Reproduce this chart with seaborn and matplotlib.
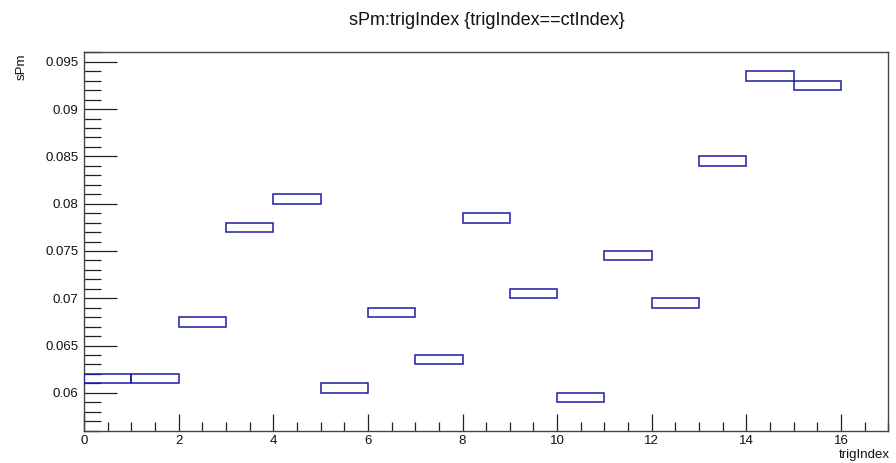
import numpy as np
import matplotlib
matplotlib.use("Agg")
import matplotlib.pyplot as plt
from matplotlib.ticker import MultipleLocator
import seaborn as sns

# sPm measured for each trigger index (entries where trigIndex == ctIndex)
trig_index = [0, 1, 2, 3, 4, 5, 6, 7, 8, 9, 10, 11, 12, 13, 14, 15]
spm = [0.06155, 0.06155, 0.06755, 0.07750, 0.08050, 0.06055, 0.06850, 0.06355,
       0.07850, 0.07055, 0.05955, 0.07450, 0.06955, 0.08445, 0.09345, 0.09250]
x_ticks = [0, 2, 4, 6, 8, 10, 12, 14, 16]
y_ticks = [0.06, 0.065, 0.07, 0.075, 0.08, 0.085, 0.09, 0.095]

# 2D histogram binning (17 x-bins of width 1, 40 y-bins of width 0.001)
x_lo, x_hi, x_bw = 0.0, 17.0, 1.0
y_lo, y_hi, y_bw = 0.056, 0.096, 0.001

sns.set_style("ticks")
plt.rcParams["font.family"] = ["Liberation Sans", "DejaVu Sans"]

fig = plt.figure(figsize=(8.96, 4.63), dpi=100)
ax = fig.add_axes([0.09375, 0.0698, 0.8977, 0.8172])

# fill the 2D histogram and draw each non-empty cell as an outlined box
counts, xe, ye = np.histogram2d(trig_index, spm,
                                bins=[np.arange(x_lo, x_hi + x_bw / 2, x_bw),
                                      np.linspace(y_lo, y_hi, 41)])
ix, iy = np.nonzero(counts)
ax.bar(xe[ix], y_bw, width=x_bw, bottom=ye[iy], align="edge",
       fill=False, edgecolor="#1c1ca8", linewidth=1.1, zorder=3)

ax.set_xlim(x_lo, x_hi)
ax.set_ylim(y_lo, y_hi)
ax.set_xticks(x_ticks)
ax.set_xticklabels([str(t) for t in x_ticks])
ax.set_yticks(y_ticks)
ax.set_yticklabels([f"{t:g}" for t in y_ticks])
ax.xaxis.set_minor_locator(MultipleLocator(0.5))
ax.yaxis.set_minor_locator(MultipleLocator(0.001))

ax.tick_params(axis="both", which="both", direction="in", colors="#222222",
               labelcolor="#111111", labelsize=9.5, width=0.9,
               top=False, right=False)
ax.tick_params(axis="y", which="major", length=24, pad=4)
ax.tick_params(axis="y", which="minor", length=12)
ax.tick_params(axis="x", which="major", length=12, pad=3)
ax.tick_params(axis="x", which="minor", length=6.5)

for side in ax.spines.values():
    side.set_visible(True)
    side.set_color("#444444")
    side.set_linewidth(1.0)

fig.text(0.543, 0.955, "sPm:trigIndex {trigIndex==ctIndex}", ha="center",
         va="center", fontsize=13, color="#111111")
fig.text(0.993, 0.018, "trigIndex", ha="right", va="center",
         fontsize=9.5, color="#111111")
fig.text(0.024, 0.885, "sPm", ha="center", va="top", rotation=90,
         fontsize=9.5, color="#111111")

fig.savefig("out.png", dpi=100, facecolor="white")
